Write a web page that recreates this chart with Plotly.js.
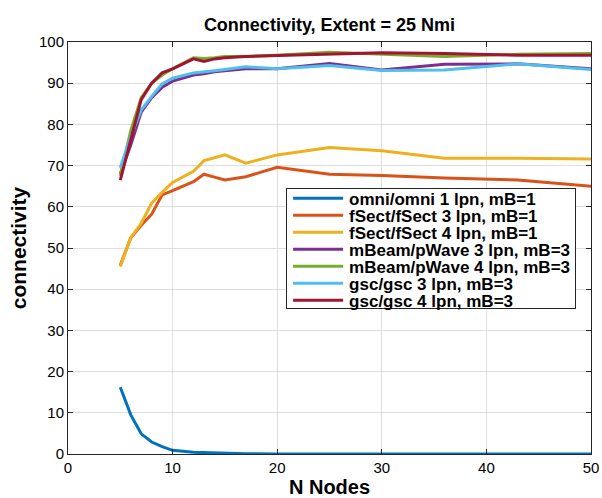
<!DOCTYPE html>
<html>
<head>
<meta charset="utf-8">
<script src="https://cdn.plot.ly/plotly-3.0.1.min.js"></script>
<style>html,body{margin:0;padding:0;background:#fff;}#chart{width:602px;height:498px;}</style>
</head>
<body>
<div id="chart"></div>
<script>
const nodes = [5,6,7,8,9,10,12,13,14,15,17,20,25,30,36,43,50];
const seriesNames = [
  "omni/omni 1 lpn, mB=1",
  "fSect/fSect 3 lpn, mB=1",
  "fSect/fSect 4 lpn, mB=1",
  "mBeam/pWave 3 lpn, mB=3",
  "mBeam/pWave 4 lpn, mB=3",
  "gsc/gsc 3 lpn, mB=3",
  "gsc/gsc 4 lpn, mB=3"
];
const omni1 =   [16.2,9.5,4.9,2.9,1.8,0.9,0.4,0.3,0.2,0.1,0.05,0,0,0,0,0,0];
const fSect3 =  [45.8,52.5,55.5,58.2,62.9,63.9,66.1,67.9,67.2,66.5,67.3,69.6,67.9,67.6,67.0,66.5,65.0];
const fSect4 =  [45.5,52.5,56.0,60.9,63.5,65.9,68.6,71.2,71.9,72.6,70.6,72.6,74.4,73.6,71.8,71.8,71.6];
const mBeam3 =  [68.0,75.0,83.0,86.5,89.0,90.5,92.0,92.3,92.8,93.0,93.5,93.5,94.8,93.2,94.6,94.7,93.5];
const mBeam4 =  [67.5,78.5,86.5,90.0,92.0,93.5,96.2,96.0,96.2,96.5,96.5,96.8,97.5,97.0,96.5,97.0,97.2];
const gsc3 =    [69.5,77.0,83.5,86.8,89.8,91.2,92.5,92.7,93.0,93.3,94.0,93.5,94.3,93.1,93.2,94.7,93.3];
const gsc4 =    [66.5,76.0,86.0,90.0,92.5,93.5,95.9,95.3,95.9,96.2,96.5,96.7,97.0,97.4,97.2,96.8,96.8];
const xTicks = [0,10,20,30,40,50];
const yTicks = [0,10,20,30,40,50,60,70,80,90,100];

const allY = [omni1,fSect3,fSect4,mBeam3,mBeam4,gsc3,gsc4];
const colors = ["#0072BD","#D95319","#EDB120","#7E2F8E","#77AC30","#4DBEEE","#A2142F"];

const traces = allY.map((y,i)=>({
  x: nodes, y: y, name: seriesNames[i], type: "scatter", mode: "lines",
  line: {color: colors[i], width: 3}
}));

const axisCommon = {
  showline: true, linecolor: "#262626", linewidth: 1, mirror: "ticks",
  ticks: "inside", ticklen: 5, tickcolor: "#262626",
  showgrid: true, gridcolor: "#dedede", gridwidth: 1,
  zeroline: false, tickfont: {size: 15, color: "#000"}
};

const layout = {
  width: 602, height: 498,
  margin: {l: 68, r: 11, t: 42, b: 44},
  paper_bgcolor: "#fff", plot_bgcolor: "#fff",
  font: {family: "Liberation Sans, Arial, sans-serif", color: "#000"},
  title: {text: "<b>Connectivity, Extent = 25 Nmi</b>", x: 0.5, xref: "paper", xanchor: "center",
          y: 0.963, yref: "container", font: {size: 18, color: "#000"}},
  xaxis: Object.assign({}, axisCommon, {
    range: [0,50], tickvals: xTicks, ticktext: xTicks.map(String),
    title: {text: "<b>N Nodes</b>", font: {size: 20}, standoff: 4}
  }),
  yaxis: Object.assign({}, axisCommon, {
    range: [0,100], tickvals: yTicks, ticktext: yTicks.map(String),
    title: {text: "<b>connectivity</b>", font: {size: 21}, standoff: 6}
  }),
  showlegend: true,
  legend: {
    x: 0.417, y: 0.646, xanchor: "left", yanchor: "top",
    bordercolor: "#262626", borderwidth: 1, bgcolor: "#fff",
    font: {size: 17, color: "#000", weight: "bold"},
    itemwidth: 52, tracegroupgap: 0
  }
};

const gd = document.getElementById("chart");
Plotly.newPlot(gd, traces, layout, {displayModeBar: false, staticPlot: true}).then(()=>{
  // compact the legend rows (MATLAB-style tight spacing)
  const leg = gd.querySelector(".legend");
  if (!leg) return;
  const items = leg.querySelectorAll("g.traces");
  const step = 17, firstY = 10.5;
  items.forEach((g,i)=>{
    const m = /translate\(([^,]+),\s*([^)]+)\)/.exec(g.getAttribute("transform") || "");
    const tx = m ? m[1] : "1";
    g.setAttribute("transform", "translate(" + tx + "," + (firstY + i*step) + ")");
    const p = g.querySelector("path.js-line");
    if (p) p.setAttribute("d", "M6,0h50");
  });
  const bg = leg.querySelector("rect.bg");
  if (bg) { bg.setAttribute("height", firstY + (items.length-1)*step + 7.5); bg.setAttribute("width", 289); }
});
</script>
</body>
</html>
